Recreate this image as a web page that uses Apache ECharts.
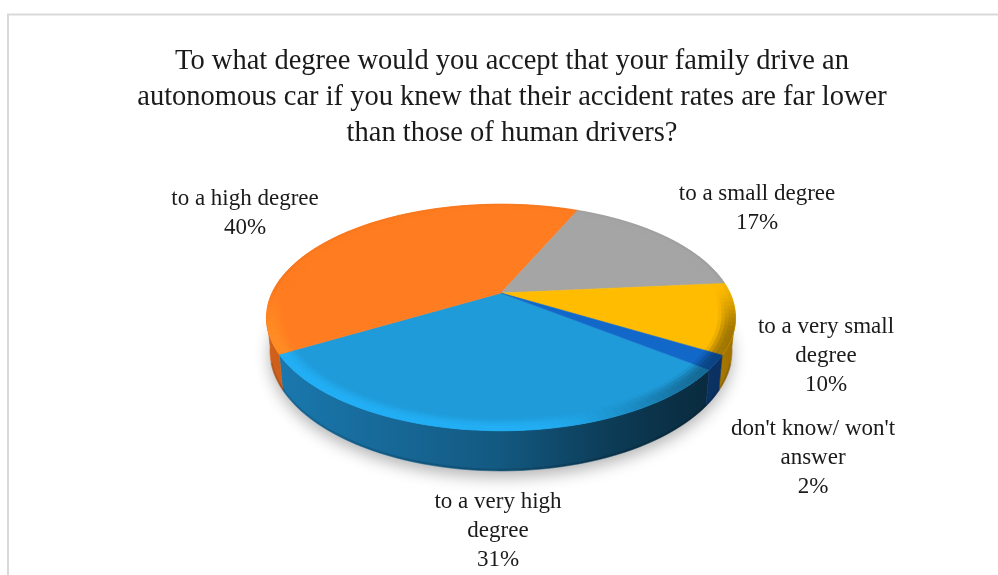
<!DOCTYPE html>
<html><head><meta charset="utf-8">
<style>html,body{margin:0;padding:0;background:#fff}#c{width:998px;height:575px}</style>
<script src="https://cdn.jsdelivr.net/npm/echarts@6/dist/echarts.min.js"></script>
</head><body><div id="c"></div>
<script>
const titleText = "To what degree would you accept that your family drive an\nautonomous car if you knew that their accident rates are far lower\nthan those of human drivers?";
const categories = ["to a very high\ndegree", "to a high degree", "to a small degree", "to a very small\ndegree", "don't know/ won't\nanswer"];
const values = [31, 40, 17, 10, 2];
const colors = ["#1f9bd9", "#ff7c20", "#a5a5a5", "#ffbc00", "#1268c8"];
const wallColors = ["#1f8fd0", "#f07020", "#a5a5a5", "#ffb400", "#1a70e0"];
const wallGains = [1, 1.02, 1, 2.3, 1.5];
const labelAnchors = [[498, 488], [245, 185], [757, 180], [826, 313], [813, 415]];
const firstAngle = 128;
const view = {cx: 501, cy: 293, rx: 229, ry: 108, k: 0.216, depth: 31.5, base: 0.985};
const total = values.reduce((a, b) => a + b, 0);
const serif = '"Liberation Serif", serif';

function toRgb(h){return [1,3,5].map(i=>parseInt(h.substr(i,2),16));}
function shade(h,f){return 'rgb('+toRgb(h).map(c=>Math.min(255,Math.round(c*f))).join(',')+')';}
function proj(deg,r){
  const a=deg*Math.PI/180,u=Math.sin(a)*r,v=-Math.cos(a)*r,w=1-view.k*v;
  return [view.cx+view.rx*u/w, view.cy+view.ry*v/w];
}
function projBottom(deg){
  const a=deg*Math.PI/180,u=Math.sin(a),v=-Math.cos(a),w=1-view.k*v;
  return [view.cx+view.rx*view.base*u/w, view.cy+view.ry*v/w+view.depth/w];
}
function wallPoint(deg,t){
  const p=proj(deg,1),q=projBottom(deg);
  return [lerp(p[0],q[0],t),lerp(p[1],q[1],t)];
}
function lerp(a,b,t){return a+(b-a)*t;}
function smooth(a,b,x){const t=Math.max(0,Math.min(1,(x-a)/(b-a)));return t*t*(3-2*t);}
function sideFactor(x){
  return x<0?lerp(0.62,0.85,-x):(x<0.5?lerp(0.62,0.40,x*2):lerp(0.40,0.27,(x-0.5)*2));
}
function bevelFactor(x,v,t){
  const front=smooth(-0.1,0.4,v);
  const target=lerp(1.13,0.62,smooth(0.05,0.95,x));
  const back=lerp(1.0,0.88,smooth(0.85,1,t));
  const prof=Math.sin(Math.min(1,t*1.2)*Math.PI*0.5);
  return lerp(back,lerp(1,target,prof),front);
}

function renderItem(params,api){
  const i=params.dataIndex, val=api.value(0);
  let start=firstAngle;
  for(let j=0;j<i;j++) start+=values[j]/total*360;
  const end=start+val/total*360, color=colors[i], wc=wallColors[i], gain=wallGains[i];
  const kids=[];
  const step=2, n=Math.max(1,Math.ceil((end-start)/step));
  const pts=[[view.cx,view.cy]];
  for(let s=0;s<=n;s++) pts.push(proj(lerp(start,end,s/n),1));
  kids.push({type:'polygon',z2:3,shape:{points:pts},style:{fill:color,stroke:color,lineWidth:0.6}});

  // outer wall: only the part of this slice that faces the viewer
  const arc=[];
  for(let s=0;s<=n;s++){
    const d=lerp(start,end,s/n), v=-Math.cos(d*Math.PI/180);
    if(v>=view.k-0.04) arc.push(d);
  }
  if(arc.length>1){
    const xs=arc.map(d=>proj(d,1)[0]), xMin=Math.min.apply(null,xs), xMax=Math.max.apply(null,xs);
    const poly=[];
    arc.forEach(d=>poly.push(wallPoint(d,0)));
    arc.slice().reverse().forEach(d=>poly.push(wallPoint(d,1)));
    const stops=[];
    for(let q=0;q<=8;q++){
      const x=lerp(xMin,xMax,q/8), xn=(x-view.cx)/(view.rx*1.02);
      stops.push({offset:q/8,color:shade(wc,sideFactor(xn)*gain*1.0)});
    }
    const g={type:'linear',global:true,x:xMin,y:0,x2:xMax,y2:0,colorStops:stops};
    kids.push({type:'polygon',z2:2,shape:{points:poly},style:{fill:g,stroke:g,lineWidth:0.6}});
    // thin darker lower edge, front part only
    const edge=arc.filter(d=>-Math.cos(d*Math.PI/180)>0.3);
    if(edge.length>1){
      kids.push({type:'polyline',z2:2.5,shape:{points:edge.map(d=>wallPoint(d,0.97))},style:{fill:null,stroke:'rgba(0,0,0,0.14)',lineWidth:2.2}});
    }
  }
  // rounded rim on the top face
  for(let s=0;s<n;s++){
    const a=lerp(start,end,s/n), b=lerp(start,end,(s+1)/n), mr=(a+b)/2*Math.PI/180;
    const v=-Math.cos(mr), xn=Math.sin(mr), rings=5;
    for(let q=0;q<rings;q++){
      const r0=0.93+0.07*q/rings, r1=0.93+0.07*(q+1)/rings;
      const fc=shade(color,bevelFactor(xn,v,(q+0.5)/rings));
      kids.push({type:'polygon',z2:4,shape:{points:[proj(a,r0),proj(b,r0),proj(b,r1),proj(a,r1)]},style:{fill:fc,stroke:fc,lineWidth:0.5}});
    }
  }
  if(i===0){
    const ring=[];
    for(let d=0;d<360;d+=3) ring.push(projBottom(d));
    kids.push({type:'polygon',z2:0,shape:{points:ring},style:{fill:'#fff',shadowColor:'rgba(0,0,0,0.3)',shadowBlur:16,shadowOffsetY:6}});
  }
  const pct=Math.round(val/total*100)+'%';
  kids.push({type:'text',z2:6,style:{text:categories[i]+'\n'+pct,x:labelAnchors[i][0],y:labelAnchors[i][1],
    align:'center',verticalAlign:'top',font:'23px '+serif,lineHeight:28.6,fill:'#1a1a1a'}});
  return {type:'group',children:kids};
}

const chart=echarts.init(document.getElementById('c'),null,{renderer:'canvas'});
chart.setOption({
  animation:false,
  backgroundColor:'#fff',
  title:{text:titleText,left:507,top:39,textAlign:'center',
    textStyle:{fontFamily:serif,fontSize:28.5,fontWeight:'normal',color:'#1a1a1a',lineHeight:36}},
  graphic:[
    {type:'polyline',silent:true,shape:{points:[[8,575],[8,14.5],[998,14.5]]},style:{stroke:'#d9d9d9',lineWidth:2,fill:null}}
  ],
  series:[{type:'custom',coordinateSystem:'none',data:values.map(v=>[v]),renderItem:renderItem}]
});
</script></body></html>
